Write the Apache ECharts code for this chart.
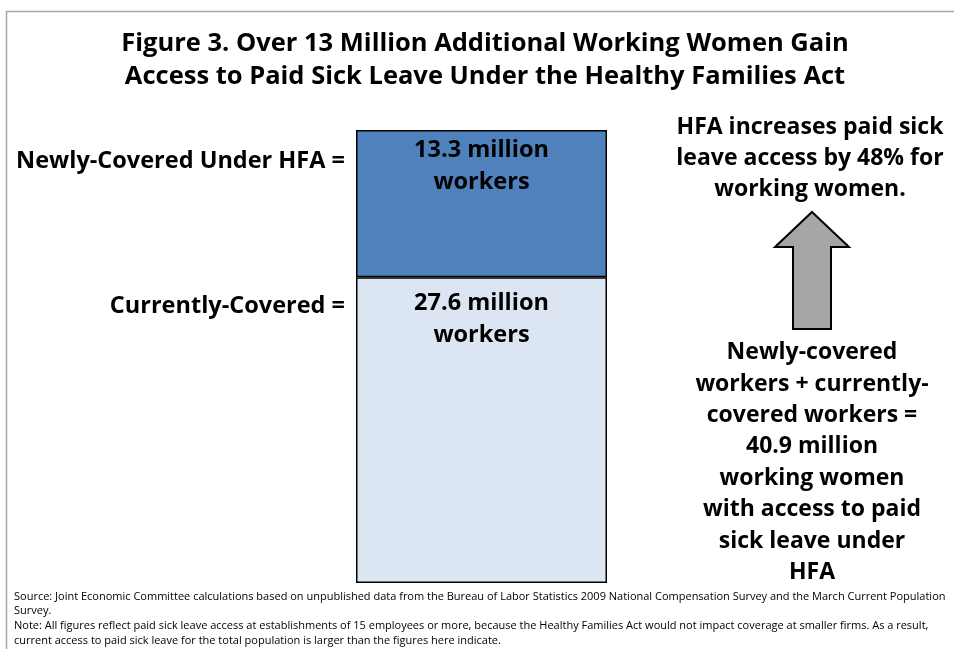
<!DOCTYPE html>
<html>
<head>
<meta charset="utf-8">
<script src="https://cdn.jsdelivr.net/npm/echarts@6/dist/echarts.min.js"></script>
<style>
  html, body { margin: 0; padding: 0; background: #fff; }
  #chart { width: 954px; height: 649px; }
</style>
</head>
<body>
<div id="chart"></div>
<script>
const categories = ['Working women']
const currentlyCovered = [27.6]
const newlyCovered = [13.3]
const totalCovered = 40.9

const titleLines = [
  'Figure 3. Over 13 Million Additional Working Women Gain',
  'Access to Paid Sick Leave Under the Healthy Families Act'
]
const segmentNames = ['Currently-Covered =', 'Newly-Covered Under HFA =']
const increaseNote = 'HFA increases paid sick\nleave access by 48% for\nworking women.'
const totalNote = 'Newly-covered\nworkers + currently-\ncovered workers =\n40.9 million\nworking women\nwith access to paid\nsick leave under\nHFA'
const footnotes = [
  'Source: Joint Economic Committee calculations based on unpublished data from the Bureau of Labor Statistics 2009 National Compensation Survey and the March Current Population',
  'Survey.',
  'Note: All figures reflect paid sick leave access at establishments of 15 employees or more, because the Healthy Families Act would not impact coverage at smaller firms. As a result,',
  'current access to paid sick leave for the total population is larger than the figures here indicate.'
]

const font = '"Open Sans", Lato, sans-serif'
const boldText = { fontFamily: font, fontWeight: 'bold', fontSize: 23, fill: '#000' }

const chart = echarts.init(document.getElementById('chart'))

const options = {
  backgroundColor: '#fff',
  animation: false,
  grid: {
    left: 356,
    right: 347,
    top: 130,
    bottom: 66
  },
  xAxis: {
    type: 'category',
    show: false,
    data: categories
  },
  yAxis: {
    type: 'value',
    show: false,
    min: 0,
    max: totalCovered
  },
  series: [
    {
      name: segmentNames[0],
      type: 'bar',
      stack: 'total',
      barWidth: '100%',
      data: currentlyCovered,
      itemStyle: {
        color: '#dce6f2',
        borderColor: '#000',
        borderWidth: 1.5
      },
      label: {
        show: true,
        position: 'insideTop',
        distance: 10,
        formatter: p => p.value + ' million\nworkers',
        fontFamily: font,
        fontWeight: 'bold',
        fontSize: 23.5,
        lineHeight: 32,
        color: '#000'
      }
    },
    {
      name: segmentNames[1],
      type: 'bar',
      stack: 'total',
      barWidth: '100%',
      data: newlyCovered,
      itemStyle: {
        color: '#4f81bd',
        borderColor: '#000',
        borderWidth: 1.5
      },
      label: {
        show: true,
        position: 'insideTop',
        distance: 4,
        formatter: p => p.value + ' million\nworkers',
        fontFamily: font,
        fontWeight: 'bold',
        fontSize: 23.5,
        lineHeight: 32,
        color: '#000'
      }
    }
  ],
  graphic: [
    // outer frame
    {
      type: 'rect',
      shape: { x: 6.5, y: 11.5, width: 1000, height: 700 },
      style: { fill: 'none', stroke: '#a6a6a6', lineWidth: 1.5 },
      silent: true
    },
    {
      type: 'text',
      style: Object.assign({}, boldText, {
        x: 485, y: 27, text: titleLines.join('\n'),
        fontSize: 25.5, lineHeight: 33, textAlign: 'center'
      })
    },
    {
      type: 'text',
      style: Object.assign({}, boldText, {
        x: 345, y: 161, text: segmentNames[1],
        fontSize: 23.5, textAlign: 'right', textVerticalAlign: 'middle'
      })
    },
    {
      type: 'text',
      style: Object.assign({}, boldText, {
        x: 345, y: 306, text: segmentNames[0],
        fontSize: 23.5, textAlign: 'right', textVerticalAlign: 'middle'
      })
    },
    {
      type: 'text',
      style: Object.assign({}, boldText, {
        x: 810, y: 112, text: increaseNote,
        textAlign: 'center', lineHeight: 31
      })
    },
    {
      type: 'text',
      style: Object.assign({}, boldText, {
        x: 812, y: 337, text: totalNote,
        textAlign: 'center', lineHeight: 31.4
      })
    },
    // up arrow
    {
      type: 'polygon',
      shape: {
        points: [[812, 212], [849, 247], [831, 247], [831, 329], [793, 329], [793, 247], [775, 247]]
      },
      style: { fill: '#a6a6a6', stroke: '#000', lineWidth: 2 }
    },
    {
      type: 'text',
      style: {
        x: 14, y: 589, text: footnotes.join('\n'),
        fontFamily: font, fontSize: 11, lineHeight: 14.8, fill: '#000'
      }
    }
  ]
}

chart.setOption(options)
window.addEventListener('resize', () => {
  chart.resize()
})
</script>
</body>
</html>
